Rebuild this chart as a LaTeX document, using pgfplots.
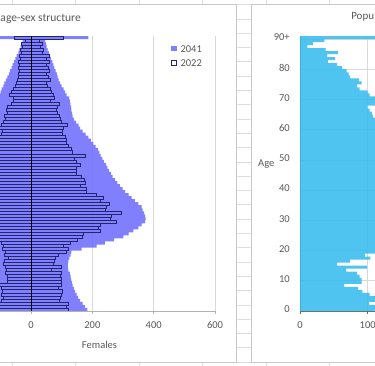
\documentclass[border=0pt]{standalone}
\usepackage{pgfplots}
\pgfplotsset{compat=1.18}
\usepackage{pgfplotstable}
\usepackage{fontspec}
\setmainfont{Carlito}
\definecolor{txt}{RGB}{89,89,89}
\definecolor{cellgrid}{RGB}{220,220,220}
\definecolor{chartborder}{RGB}{200,200,200}
\definecolor{gridc}{RGB}{217,217,217}
\definecolor{f41}{RGB}{111,111,255}
\definecolor{out22}{RGB}{35,35,110}
\definecolor{bluebar}{RGB}{55,188,239}
\definecolor{axisdark}{RGB}{110,110,110}
\newcommand\tfont{\fontsize{10.5}{12}\selectfont}

\pgfplotstableread{
age f41 m41 f22 m22
0 184 -178 122 -108
1 176 -171 116 -105
2 168 -163 122 -105
3 160 -155 92 -98
4 154 -149 95 -90
5 149 -145 98 -96
6 144 -140 102 -92
7 140 -136 89 -98
8 136 -132 98 -105
9 133 -129 98 -77
10 131 -127 98 -77
11 129 -125 95 -77
12 127 -123 98 -85
13 122 -118 67 -79
14 120 -116 100 -85
15 120 -116 73 -90
16 122 -118 75 -88
17 125 -121 78 -74
18 129 -125 89 -88
19 132 -128 116 -85
20 165 -160 122 -92
21 214 -208 105 -90
22 241 -234 127 -96
23 271 -263 151 -110
24 301 -292 169 -161
25 318 -308 171 -162
26 334 -324 227 -216
27 350 -340 220 -209
28 361 -350 227 -216
29 372 -361 277 -263
30 374 -363 258 -245
31 372 -361 263 -250
32 369 -358 296 -281
33 364 -353 241 -229
34 361 -350 245 -233
35 350 -340 256 -243
36 339 -329 225 -214
37 328 -318 236 -224
38 318 -308 214 -203
39 307 -298 182 -173
40 299 -290 179 -170
41 290 -281 160 -152
42 282 -274 176 -167
43 274 -266 173 -164
44 266 -258 163 -155
45 261 -253 149 -142
46 255 -247 149 -142
47 249 -242 147 -140
48 245 -238 160 -152
49 238 -231 147 -140
50 233 -226 140 -133
51 227 -220 176 -167
52 223 -216 136 -129
53 218 -211 133 -126
54 211 -205 122 -116
55 203 -197 116 -110
56 195 -189 116 -110
57 187 -181 111 -110
58 178 -173 103 -96
59 168 -163 103 -92
60 160 -155 106 -105
61 155 -150 120 -98
62 147 -143 100 -90
63 140 -136 97 -85
64 136 -132 92 -88
65 134 -128 86 -77
66 132 -124 84 -82
67 131 -120 86 -77
68 128 -116 92 -63
69 127 -113 62 -58
70 124 -110 75 -58
71 116 -104 73 -71
72 111 -99 67 -63
73 106 -96 62 -56
74 100 -90 54 -52
75 95 -87 51 -47
76 90 -82 62 -45
77 87 -77 56 -41
78 84 -72 51 -41
79 80 -68 60 -38
80 76 -63 56 -41
81 73 -60 51 -38
82 70 -55 60 -40
83 65 -51 49 -36
84 62 -47 59 -38
85 58 -41 38 -31
86 54 -38 40 -34
87 51 -34 31 -27
88 49 -31 38 -31
89 46 -27 27 -20
90 187 -120 105 -54
}\pyr

\pgfplotstableread{
age r
0 130
1 125
2 102
3 120
4 125
5 103
6 92
7 86
8 65
9 91
10 91
11 88
12 84
13 68
14 99
15 55
16 74
17 104
18 96
19 118
20 140
21 150
22 160
23 170
24 180
25 190
26 200
27 210
28 215
29 220
30 225
31 225
32 225
33 220
34 220
35 215
36 210
37 205
38 200
39 195
40 190
41 185
42 180
43 178
44 175
45 172
46 170
47 168
48 165
49 162
50 160
51 158
52 155
53 152
54 150
55 148
56 145
57 142
58 140
59 138
60 135
61 132
62 130
63 125
64 108
65 106
66 103
67 100
68 130
69 130
70 125
71 103
72 100
73 88
74 84
75 91
76 87
77 74
78 72
79 69
80 62
81 55
82 41
83 52
84 40
85 56
86 38
87 11
88 19
89 36
90 130
}\rpop

\pgfplotsset{
  sqlegend/.style={legend image code/.code={\path[##1, line width=0.7pt] (0pt,-2.65pt) rectangle (5.3pt,2.65pt);}},
}

\begin{document}
\begin{tikzpicture}[x=1pt,y=1pt]
\path[use as bounding box] (0,0) rectangle (375,366);
\clip (0,0) rectangle (375,366);
\fill[white] (0,0) rectangle (375,366);
% spreadsheet cell grid
\foreach \k in {0,...,25} {\draw[cellgrid, line width=0.6pt] (0,{361.4-14.3*\k}) -- (375,{361.4-14.3*\k});}
\foreach \k in {0,...,5} {\draw[cellgrid, line width=0.6pt] ({12+63.5*\k},0) -- ({12+63.5*\k},366);}
% chart areas
\draw[chartborder, fill=white, line width=0.8pt] (-10,4) rectangle (236.7,361.4);
\draw[chartborder, fill=white, line width=0.8pt] (251.7,4) rectangle (420,361.4);

% ---------------- left chart: pyramid ----------------
\begin{axis}[
  at={(-153pt,55pt)}, anchor=south west, scale only axis,
  width=368pt, height=275pt,
  xmin=-600, xmax=600, ymin=0, ymax=91,
  axis x line*=bottom, axis y line=none,
  x axis line style={draw=gray!60, line width=0.8pt, -},
  xtick={0,200,400,600},
  xticklabels={0,200,400,600},
  ytick={0,10,...,90,91},
  yticklabels={},
  xmajorgrids, ymajorgrids,
  grid style={draw=gridc, line width=0.7pt},
  tick align=outside,
  x tick style={draw=gray!60, line width=0.6pt},
  major tick length=3pt,
  y tick style={draw=none},
  xticklabel style={font=\tfont, text=txt, yshift=-4pt},
  legend style={at={(0.880,0.968)}, anchor=north west, draw=none, fill=none,
    font=\tfont, text=txt, row sep=7.6pt, column sep=3.5pt, inner sep=0pt,
    nodes={inner sep=0pt, text height=7pt, text depth=0pt, anchor=west}},
  clip=true,
]
\addplot[xbar, bar width=1, bar shift=0pt, fill=f41, fill opacity=0.88, draw=none, sqlegend]
  table[x=f41, y expr=\thisrow{age}+0.5]{\pyr};
\addlegendentry{2041}
\addplot[xbar, bar width=1, bar shift=0pt, fill=f41, fill opacity=0.88, draw=none, forget plot]
  table[x=m41, y expr=\thisrow{age}+0.5]{\pyr};
\addplot[xbar, bar width=1, bar shift=0pt, fill=none, draw=out22, line width=0.7pt, sqlegend]
  table[x=f22, y expr=\thisrow{age}+0.5]{\pyr};
\addlegendentry{2022}
\addplot[xbar, bar width=1, bar shift=0pt, fill=none, draw=out22, line width=0.7pt, forget plot]
  table[x=m22, y expr=\thisrow{age}+0.5]{\pyr};
\draw[black, line width=0.9pt] (axis cs:0,0) -- (axis cs:0,91);
\end{axis}

% ---------------- right chart ----------------
\begin{axis}[
  at={(300pt,55pt)}, anchor=south west, scale only axis,
  width=270.8pt, height=275pt,
  xmin=0, xmax=400, ymin=0, ymax=91,
  axis lines=left,
  axis line style={draw=axisdark, line width=0.8pt, -},
  xtick={0,100},
  xticklabels={0,100},
  ytick={0,10,...,90},
  yticklabels={0,10,20,30,40,50,60,70,80,90+},
  xmajorgrids, ymajorgrids,
  grid style={draw=gridc, line width=0.7pt},
  tick align=outside,
  x tick style={draw=axisdark, line width=0.6pt},
  major tick length=3pt,
  y tick style={draw=none},
  xticklabel style={font=\tfont, text=txt, yshift=-4pt},
  yticklabel style={font=\tfont, text=txt, xshift=-3.8pt, yshift=1.5pt},
  clip=true,
]
\addplot[xbar, bar width=1, bar shift=0pt, fill=bluebar, fill opacity=0.88, draw=none]
  table[x=r, y expr=\thisrow{age}+0.5]{\rpop};
\end{axis}

% texts
\node[anchor=east, font=\fontsize{11.5}{13}\selectfont, text=txt, inner sep=0pt] at (81,346.7) {age-sex structure};
\node[font=\tfont, text=txt, inner sep=0pt] at (99.5,21) {Females};
\node[font=\tfont, text=txt, inner sep=0pt] at (266.3,202) {Age};
\node[anchor=east, font=\fontsize{11}{13}\selectfont, text=txt, inner sep=0pt] at (374.3,348.7) {Popu};
\end{tikzpicture}
\end{document}
